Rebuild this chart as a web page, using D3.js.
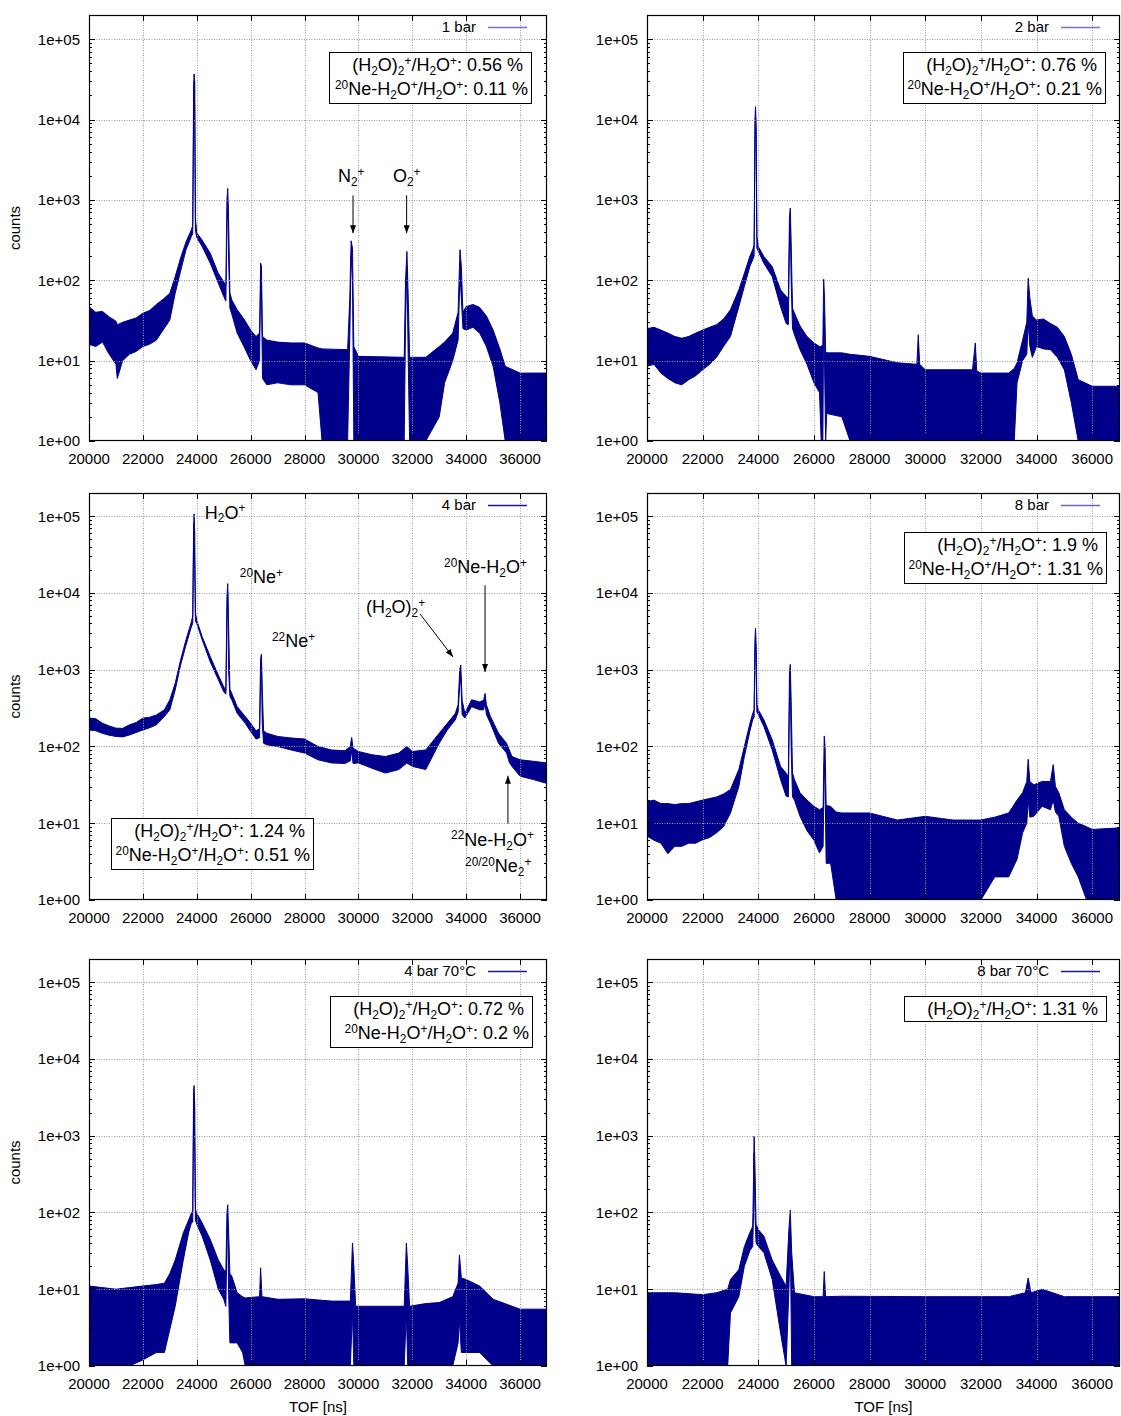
<!DOCTYPE html>
<html>
<head>
<meta charset="utf-8">
<script src="https://cdn.jsdelivr.net/npm/d3@7"></script>
<style>
  body { margin: 0; background: #fff; }
  text { font-family: "Liberation Sans", Arial, Helvetica, sans-serif; fill: #000; }
</style>
</head>
<body>
<svg id="fig" width="1121" height="1416"></svg>
<script>
// ---------------- axis ticks ----------------
const xTicks = [20000, 22000, 24000, 26000, 28000, 30000, 32000, 34000, 36000];
const yTicks = [1, 10, 100, 1000, 10000, 100000];
const yTickLabels = ["1e+00", "1e+01", "1e+02", "1e+03", "1e+04", "1e+05"];
const xDomain = [20000, 37000];
const yDomain = [1, 2e5];

// ---------------- spectra: TOF [ns], upper / lower envelope of counts ----------------
// 1 bar
const tof1 = [20000,20250,20500,20750,21000,21050,21250,21500,21750,22000,22250,22500,22750,23000,23200,23400,23600,23800,23850,23880,23900,23925,23950,24000,24200,24500,24800,25000,25080,25120,25150,25180,25230,25300,25500,25750,26000,26200,26330,26370,26400,26440,26600,27000,27500,28000,28500,28650,29600,29680,29730,29780,29830,30000,31700,31750,31800,31850,31900,32500,33000,33200,33500,33700,33770,33820,33880,34000,34250,34500,34750,35000,35250,35450,36000,37000];
const hi1  = [47,40,41,35,31,28,30,32,34,39,42,50,58,69,111,190,300,424,480,20000,37000,30000,600,390,316,217,122,96,85,1000,1390,600,70,57,43,33,24,20,22,163,150,20,18,17,16.6,16.6,14.4,14,13.7,60,310,250,15,11.3,11,100,228,60,11,11,15,17,22,40,240,150,40,47,50,46,36,24,14,8.5,7,7];
const lo1  = [16,15,17,12,9,6,10,12,13,15,16,18,24,32,69,130,240,350,380,8000,30000,12000,420,340,263,163,92,63,55,500,900,200,45,38,22,15,10,7.7,10,100,80,6,5,5.3,5,5,4,1,1,20,200,100,1,1,1,30,150,10,1,1,2,5.3,10,18,120,60,25,24,26,22,15,8.5,3,1,1,1];

// 2 bar
const tof2 = [20000,20250,20500,20750,21000,21250,21500,21750,22000,22250,22500,22750,23000,23300,23500,23700,23800,23850,23880,23900,23925,23950,24000,24200,24500,24800,25000,25080,25120,25150,25180,25230,25300,25500,25750,26000,26200,26260,26320,26350,26380,26420,26460,27000,27300,28000,29000,29700,29750,29800,30000,31700,31800,31850,32000,33000,33200,33300,33500,33650,33700,33760,33850,34000,34250,34500,34750,35000,35250,35500,36000,37000];
const hi2  = [25,26,24,22,20,19,20,22,24,26,28,33,43,76,122,200,240,280,10000,14500,8000,350,263,198,148,76,63,60,600,790,300,45,39,27,20,16.6,15,15,16,103,60,13,12.5,12.5,12,11.3,9.4,9,21,9,7.7,7.7,16.6,7.5,7,7,8,9.4,18,30,106,60,36,32,33,29,26,20,12,5.8,4.8,4.8];
const lo2  = [8.5,9,7,6,5.3,5,5.8,6.5,7.7,9,11,15,20,47,84,150,180,200,5000,11000,3000,250,230,163,111,47,29,28,300,500,100,25,21,13.7,9,5.3,4,1,1,40,10,1,2.2,2,1,1,1,1,1,1,1,1,1,1,1,1,1,5.3,10,12,30,15,11,15,14,13.7,11,7.7,3,1,1,1];

// 4 bar
const tof3 = [20000,20250,20500,20750,21000,21250,21500,21750,22000,22250,22500,22800,23000,23200,23400,23600,23800,23850,23880,23900,23925,23950,24000,24200,24500,24800,25000,25080,25120,25150,25180,25230,25300,25500,25800,26000,26200,26330,26370,26400,26430,26480,26600,27000,27500,28000,28500,29000,29500,29700,29750,29800,30000,30500,31000,31500,31800,32000,32500,33000,33300,33600,33700,33760,33800,33850,33950,34200,34500,34650,34700,34750,34900,35200,35500,35600,35700,36000,36500,37000];
const hi3  = [234,230,200,185,173,172,191,205,234,240,257,300,405,665,1340,2450,4200,5000,60000,107000,60000,5500,4400,2690,1480,850,600,540,9000,13200,4000,560,490,330,246,200,160,170,1400,1590,600,160,149,135,129,125,100,90,88,100,131,95,86,78,74,82,100,86,90,149,200,270,350,1000,1150,400,270,405,380,400,490,350,246,149,110,90,74,67,64,61];
const lo3  = [164,160,148,140,135,133,141,152,164,175,191,246,300,545,1150,2090,3620,4000,40000,80000,20000,4300,4000,2450,1260,740,515,480,4000,10000,1000,450,405,270,200,156,125,130,800,1200,200,110,105,100,90,82,67,61,60,65,90,60,61,52,45,50,61,55,50,110,164,223,280,600,800,260,234,330,300,300,380,260,200,110,82,62,55,41,37,33];

// 8 bar
const tof4 = [20000,20250,20500,20750,21000,21250,21500,21750,22000,22250,22500,22750,23000,23300,23500,23700,23800,23850,23880,23900,23925,23950,24000,24200,24500,24800,25000,25080,25120,25150,25180,25230,25300,25500,25750,26000,26200,26330,26370,26400,26440,26600,26800,27000,28000,29000,30000,31000,32000,32500,33000,33300,33500,33650,33700,33760,33900,34200,34500,34600,34680,34800,35000,35250,35500,35800,36000,37000];
const hi4  = [19,20,18,18,17.5,18,18,19,20,21,22,24,27.5,50,100,200,270,300,2500,3450,2000,350,300,223,122,55,45,40,900,1170,400,45,37,25,20,16.6,15,16,137,100,17,16.6,14,13.6,13.6,11,12.3,11,11,12,13.6,20,25,35,68,35,31.6,35,35,58,30,25,15,12,10,9,8.3,8.7];
const lo4  = [6.8,6,5.5,4,5,5,5.5,5.5,6.1,6.5,7.5,9,13.6,30,74,160,223,240,1500,2500,800,280,260,182,90,37,22.5,22,400,800,100,22,20,12.3,8,6,4.1,5,60,30,3,3,1,1,1,1,1,1,1,2,2,3.4,7.5,10,20,12,12.3,16.6,15,20,14,12.3,5,3,2,1,1,1];

// 4 bar 70°C
const tof5 = [20000,20500,21000,21500,22000,22500,22800,23000,23200,23500,23700,23800,23850,23880,23900,23925,23950,24000,24200,24500,24800,25000,25080,25120,25150,25180,25230,25300,25500,25700,25800,26330,26370,26420,27000,28000,29000,29700,29780,29830,29900,30000,31000,31700,31780,31830,31900,32500,33000,33500,33700,33750,33820,34000,34500,35000,36000,37000];
const hi5  = [11,10.5,10,10.5,11,11.5,12,16,24,54,80,98,105,3500,4500,2500,110,98,73,44.6,24,18,17,100,126,60,16,14.8,9,8,7.7,8,19,8,7.4,7.5,7,7,40,20,6,6,6,6,40,20,6,6.5,6.7,8,12,28,14,13.4,11,7.4,5.5,5.5];
const lo5  = [1,1,1,1,1.2,1.5,1.5,3,6,24,55,73,75,1500,3000,700,80,70,49,24,10,7.4,6,40,70,10,2,2,2,1.5,1,1,1,1,1,1,1,1,5,1,1,1,1,1,5,1,1,1,1,1,2,4,1.5,1.5,1.5,1,1,1];

// 8 bar 70°C
const tof6 = [20000,21000,22000,22500,22900,23000,23300,23500,23700,23800,23830,23850,23880,23920,24000,24200,24500,24800,25000,25100,25150,25200,25300,26000,26330,26370,26420,27000,30000,33000,33600,33700,33800,34200,35000,37000];
const hi6  = [9,9,8.5,9,10,13.4,18,36,55,66,300,980,400,70,60,49,24,14.8,11,60,107,30,9,8,8,17,8,8.1,8,8,9,14,9,10,8,8];
const lo6  = [1,1,1,1,1,4.9,8,20,32,36,100,600,100,40,36,30,13.4,2.7,1,10,50,1,1,1,1,1,1,1,1,1,1,1,1,1,1,1];

// ---------------- ratios shown in the boxes ----------------
const dimerRatio = ["0.56", "0.76", "1.24", "1.9", "0.72", "1.31"];
const neRatio    = ["0.11", "0.21", "0.51", "1.31", "0.2", null];
const seriesNames = ["1 bar", "2 bar", "4 bar", "8 bar", "4 bar 70°C", "8 bar 70°C"];

// ---------------- peak labels (TOF, counts) ----------------
const labels1 = [
  { text: "N_2^+", t: 29240, c: 1660 },
  { text: "O_2^+", t: 31280, c: 1660 }
];
const arrows1 = [
  { t0: 29800, c0: 1140, t1: 29800, c1: 385 },
  { t0: 31790, c0: 1140, t1: 31790, c1: 385 }
];
const labels3 = [
  { text: "H_2O^+", t: 24300, c: 93000 },
  { text: "^{20}Ne^+", t: 25600, c: 13400 },
  { text: "^{22}Ne^+", t: 26790, c: 1970 },
  { text: "(H_2O)_2^+", t: 30280, c: 5450 },
  { text: "^{20}Ne-H_2O^+", t: 33180, c: 18000 },
  { text: "^{22}Ne-H_2O^+", t: 33440, c: 5.1 },
  { text: "^{20/20}Ne_2^+", t: 33960, c: 2.29 }
];
const arrows3 = [
  { t0: 32290, c0: 5300, t1: 33510, c1: 1465 },
  { t0: 34700, c0: 12600, t1: 34700, c1: 933 },
  { t0: 35550, c0: 9.9, t1: 35550, c1: 41.6 }
];

// ---------------- layout ----------------
const cols = [{ x0: 89, x1: 547 }, { x0: 647, x1: 1120 }];
const rows = [{ y0: 15, y1: 441 }, { y0: 493, y1: 900 }, { y0: 959, y1: 1366 }];
const NAVY = "#00008b";

const panels = [
  { col: 0, row: 0, tof: tof1, hi: hi1, lo: lo1, legendOpacity: 0.55, box: { dx: -218, dy: 37 }, labels: labels1, arrows: arrows1 },
  { col: 1, row: 0, tof: tof2, hi: hi2, lo: lo2, legendOpacity: 0.55, box: { dx: -217, dy: 37 } },
  { col: 0, row: 1, tof: tof3, hi: hi3, lo: lo3, legendOpacity: 0.9, box: { left: 22, dy: 325 }, labels: labels3, arrows: arrows3 },
  { col: 1, row: 1, tof: tof4, hi: hi4, lo: lo4, legendOpacity: 0.6, box: { dx: -216, dy: 39 } },
  { col: 0, row: 2, tof: tof5, hi: hi5, lo: lo5, legendOpacity: 0.9, box: { dx: -217, dy: 37 } },
  { col: 1, row: 2, tof: tof6, hi: hi6, lo: lo6, legendOpacity: 0.9, box: { dx: -216, dy: 37 } }
];

const svg = d3.select("#fig");

svg.append("defs").append("marker")
  .attr("id", "arrowhead")
  .attr("markerUnits", "userSpaceOnUse")
  .attr("markerWidth", 8).attr("markerHeight", 6)
  .attr("refX", 8).attr("refY", 3)
  .attr("orient", "auto")
  .append("path").attr("d", "M0,0L8,3L0,6Z").attr("fill", "#000");

// gnuplot-style enhanced text: _x / _{..} subscripts, ^x / ^{..} superscripts
function richText(sel, spec, size, scale = 0.66) {
  const parts = [];
  let i = 0, buf = "";
  while (i < spec.length) {
    const ch = spec[i];
    if (ch === "_" || ch === "^") {
      if (buf) { parts.push({ t: buf, k: 0 }); buf = ""; }
      let s;
      if (spec[i + 1] === "{") { const j = spec.indexOf("}", i); s = spec.slice(i + 2, j); i = j + 1; }
      else { s = spec[i + 1]; i += 2; }
      parts.push({ t: s, k: ch === "_" ? 1 : -1 });
    } else { buf += ch; i++; }
  }
  if (buf) parts.push({ t: buf, k: 0 });
  let cur = 0;
  parts.forEach(p => {
    const target = p.k === 0 ? 0 : (p.k === 1 ? size * 0.22 : -size * 0.36);
    sel.append("tspan")
      .attr("dy", (target - cur).toFixed(2))
      .attr("font-size", p.k ? size * scale : size)
      .text(p.t);
    cur = target;
  });
}

panels.forEach((p, idx) => {
  const { x0, x1 } = cols[p.col];
  const { y0, y1 } = rows[p.row];
  const x = d3.scaleLinear().domain(xDomain).range([x0, x1]);
  const y = d3.scaleLog().domain(yDomain).range([y1, y0]);
  const g = svg.append("g");

  const clipId = "clip" + idx;
  svg.select("defs").append("clipPath").attr("id", clipId)
    .append("rect").attr("x", x0).attr("y", y0).attr("width", x1 - x0).attr("height", y1 - y0);

  // spectrum
  const pts = p.tof.map((t, i) => ({ t, hi: p.hi[i], lo: Math.max(1, p.lo[i]) }));
  const area = d3.area().x(d => x(d.t)).y0(d => y(d.lo)).y1(d => y(d.hi));
  g.append("path").datum(pts)
    .attr("clip-path", `url(#${clipId})`)
    .attr("d", area)
    .attr("fill", NAVY)
    .attr("stroke", NAVY)
    .attr("stroke-width", 1)
    .attr("stroke-linejoin", "round");

  // grid (drawn over the data, like the border)
  const grid = g.append("g").attr("stroke", "#9a9a9a").attr("stroke-width", 1)
    .attr("stroke-dasharray", "1,1.5").attr("fill", "none");
  xTicks.filter(t => t > xDomain[0]).forEach(t => {
    const px = Math.round(x(t)) + 0.5;
    grid.append("line").attr("x1", px).attr("x2", px).attr("y1", y0).attr("y2", y1);
  });
  yTicks.filter(t => t > yDomain[0]).forEach(t => {
    const py = Math.round(y(t)) + 0.5;
    grid.append("line").attr("x1", x0).attr("x2", x1).attr("y1", py).attr("y2", py);
  });

  // ticks on all four sides, pointing inward
  const tk = g.append("g").attr("stroke", "#000").attr("stroke-width", 1);
  xTicks.forEach(t => {
    const px = Math.round(x(t)) + 0.5;
    tk.append("line").attr("x1", px).attr("x2", px).attr("y1", y1).attr("y2", y1 - 6);
    tk.append("line").attr("x1", px).attr("x2", px).attr("y1", y0).attr("y2", y0 + 6);
  });
  for (let dec = 0; dec <= 5; dec++) {
    for (let m = 1; m <= 9; m++) {
      const v = m * Math.pow(10, dec);
      if (v < yDomain[0] || v > yDomain[1]) continue;
      const py = Math.round(y(v)) + 0.5;
      const len = m === 1 ? 6 : 3;
      tk.append("line").attr("x1", x0).attr("x2", x0 + len).attr("y1", py).attr("y2", py);
      tk.append("line").attr("x1", x1).attr("x2", x1 - len).attr("y1", py).attr("y2", py);
    }
  }

  // border
  g.append("rect").attr("x", x0 + 0.5).attr("y", y0 + 0.5)
    .attr("width", x1 - x0 - 1).attr("height", y1 - y0 - 1)
    .attr("fill", "none").attr("stroke", "#000").attr("stroke-width", 1.2);

  // tick labels
  g.append("g").selectAll("text").data(xTicks).join("text")
    .attr("x", d => x(d)).attr("y", y1 + 23)
    .attr("text-anchor", "middle").attr("font-size", 15)
    .text(d => d);
  g.append("g").selectAll("text").data(yTicks).join("text")
    .attr("x", x0 - 9).attr("y", d => y(d)).attr("dy", "0.36em")
    .attr("text-anchor", "end").attr("font-size", 15)
    .text((d, i) => yTickLabels[i]);

  // axis titles
  if (p.col === 0) {
    g.append("text")
      .attr("transform", `translate(20,${(y0 + y1) / 2}) rotate(-90)`)
      .attr("text-anchor", "middle").attr("font-size", 15)
      .text("counts");
  }
  if (p.row === 2) {
    g.append("text").attr("x", (x0 + x1) / 2).attr("y", 1412)
      .attr("text-anchor", "middle").attr("font-size", 15)
      .text("TOF [ns]");
  }

  // legend
  g.append("text").attr("x", x1 - 71).attr("y", y0 + 12).attr("dy", "0.36em")
    .attr("text-anchor", "end").attr("font-size", 15)
    .text(seriesNames[idx]);
  g.append("line").attr("x1", x1 - 59).attr("x2", x1 - 20)
    .attr("y1", y0 + 12.5).attr("y2", y0 + 12.5)
    .attr("stroke", NAVY).attr("stroke-opacity", p.legendOpacity).attr("stroke-width", 1.3);

  // ratio box
  const lines = ["(H_2O)_2^+/H_2O^+: " + dimerRatio[idx] + " %"];
  if (neRatio[idx] !== null) lines.push("^{20}Ne-H_2O^+/H_2O^+: " + neRatio[idx] + " %");
  const bw = 202, bh = lines.length === 2 ? 51 : 25;
  const bx = p.box.left !== undefined ? x0 + p.box.left : x1 + p.box.dx;
  const by = y0 + p.box.dy;
  g.append("rect").attr("x", bx + 0.5).attr("y", by + 0.5).attr("width", bw).attr("height", bh)
    .attr("fill", "#fff").attr("stroke", "#000").attr("stroke-width", 1);
  lines.forEach((s, k) => {
    const t = g.append("text").attr("x", bx + bw - (k === 0 ? 8 : 3)).attr("y", by + 19 + 24 * k)
      .attr("text-anchor", "end").attr("font-size", 18);
    richText(t, s, 18);
  });

  // peak annotations
  (p.labels || []).forEach(l => {
    const t = g.append("text").attr("x", x(l.t)).attr("y", y(l.c)).attr("font-size", 18);
    richText(t, l.text, 18);
  });
  (p.arrows || []).forEach(a => {
    g.append("line")
      .attr("x1", x(a.t0)).attr("y1", y(a.c0)).attr("x2", x(a.t1)).attr("y2", y(a.c1))
      .attr("stroke", "#000").attr("stroke-width", 1)
      .attr("marker-end", "url(#arrowhead)");
  });
});
</script>
</body>
</html>
